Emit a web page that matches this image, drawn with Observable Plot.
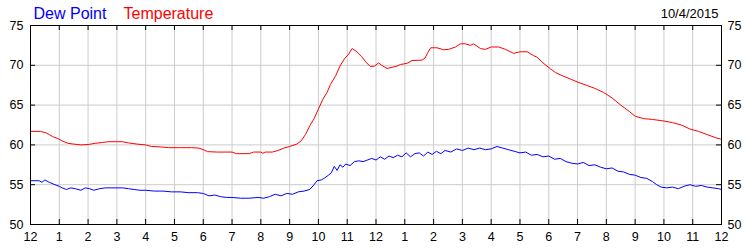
<!DOCTYPE html>
<html><head><meta charset="utf-8">
<script src="https://cdn.jsdelivr.net/npm/d3@7"></script>
<script src="https://cdn.jsdelivr.net/npm/@observablehq/plot@0.6"></script>
<style>body{margin:0;background:#fff}</style>
</head><body><div id="chart"></div>
<script>
// Hours after midnight (0..24) and readings in °F
const tempHours = [0,0.35,0.55,0.65,0.8,0.95,1.1,1.3,1.5,1.75,2.0,2.25,2.5,2.7,3.0,3.2,3.4,3.7,4.0,4.2,4.5,4.8,5.2,5.6,5.85,6.0,6.15,6.5,7.0,7.15,7.6,7.75,8.0,8.07,8.15,8.4,8.6,8.8,9.0,9.25,9.4,9.55,9.7,9.85,10.0,10.15,10.3,10.42,10.6,10.75,10.9,11.05,11.17,11.34,11.5,11.65,11.8,11.95,12.09,12.2,12.38,12.56,12.73,12.85,13.08,13.25,13.6,13.7,13.8,13.9,14.12,14.35,14.52,14.76,14.93,15.1,15.28,15.39,15.63,15.8,16.0,16.26,16.5,16.78,17.0,17.25,17.48,17.6,17.8,18.06,18.23,18.4,18.6,18.8,19.0,19.3,19.6,19.9,20.2,20.5,20.8,21.0,21.3,21.6,22.0,22.3,22.6,22.9,23.2,23.5,23.8,24.0];
const tempValues = [61.7,61.7,61.5,61.3,61.0,60.8,60.5,60.2,60.1,60.0,60.05,60.2,60.3,60.4,60.4,60.4,60.25,60.1,60.0,59.8,59.75,59.65,59.65,59.65,59.6,59.4,59.15,59.1,59.1,58.9,58.9,59.1,59.1,58.95,59.1,59.1,59.3,59.6,59.8,60.1,60.5,61.3,62.4,63.3,64.5,65.7,66.6,67.6,68.7,69.9,70.8,71.4,72.1,71.7,71.1,70.4,69.85,69.9,70.3,70.0,69.6,69.75,69.9,70.1,70.25,70.6,70.65,70.9,71.6,72.2,72.2,71.95,72.0,72.3,72.7,72.7,72.5,72.7,72.1,72.0,72.3,72.3,72.0,71.5,71.7,71.7,71.2,71.0,70.3,69.55,69.1,68.8,68.5,68.2,67.9,67.5,67.1,66.6,65.9,65.0,64.2,63.6,63.3,63.2,63.0,62.8,62.5,62.0,61.7,61.3,60.9,60.7];
const dewHours = [0,0.3,0.4,0.5,0.65,0.85,1.0,1.1,1.25,1.4,1.55,1.75,1.9,2.05,2.2,2.4,2.6,2.8,3.0,3.2,3.4,3.6,3.8,4.0,4.3,4.6,4.9,5.2,5.5,5.8,6.0,6.2,6.4,6.6,6.8,7.0,7.3,7.6,7.9,8.1,8.3,8.5,8.7,8.9,9.1,9.3,9.5,9.7,9.85,9.95,10.1,10.2,10.35,10.45,10.55,10.65,10.75,10.85,10.95,11.1,11.25,11.4,11.55,11.7,11.85,12.0,12.15,12.3,12.45,12.6,12.75,12.9,13.05,13.2,13.35,13.5,13.65,13.8,13.95,14.1,14.25,14.4,14.6,14.8,15.0,15.2,15.4,15.6,15.8,16.0,16.2,16.4,16.6,16.8,17.0,17.2,17.4,17.6,17.8,18.0,18.2,18.4,18.6,18.8,19.0,19.2,19.4,19.6,19.8,20.0,20.2,20.4,20.6,20.8,21.0,21.2,21.4,21.6,21.75,21.9,22.1,22.3,22.5,22.7,22.9,23.1,23.3,23.5,23.7,23.9,24.0];
const dewValues = [55.5,55.5,55.3,55.6,55.3,55.0,54.8,54.6,54.4,54.6,54.5,54.3,54.6,54.5,54.3,54.5,54.6,54.6,54.6,54.6,54.5,54.4,54.3,54.3,54.2,54.2,54.1,54.1,54.0,54.0,53.9,53.6,53.7,53.5,53.4,53.4,53.3,53.3,53.4,53.3,53.5,53.8,53.6,53.9,53.8,54.1,54.2,54.4,55.0,55.5,55.6,55.8,56.2,56.5,57.3,56.8,57.5,57.2,57.6,57.4,57.9,58.0,57.9,58.1,58.3,58.1,58.5,58.2,58.6,58.4,58.7,58.5,59.0,58.5,58.9,59.0,58.6,59.1,58.8,59.2,58.9,59.3,59.1,59.5,59.3,59.6,59.4,59.6,59.4,59.5,59.8,59.6,59.4,59.2,59.0,59.1,58.7,58.8,58.5,58.6,58.2,58.3,57.9,57.7,57.6,57.8,57.4,57.5,57.2,57.0,57.1,56.7,56.6,56.3,56.2,55.9,55.8,55.4,55.0,54.7,54.6,54.7,54.5,54.8,55.0,54.8,54.9,54.7,54.6,54.5,54.4];

const hourTicks = [0,1,2,3,4,5,6,7,8,9,10,11,12,13,14,15,16,17,18,19,20,21,22,23,24];
const hourLabels = ["12","1","2","3","4","5","6","7","8","9","10","11","12","1","2","3","4","5","6","7","8","9","10","11","12"];
const yTicks = [50,55,60,65,70,75];
const yGrid = [55,60,65,70];
const titleDew = "Dew Point";
const titleTemp = "Temperature";
const dateLabel = "10/4/2015";

const W = 750, H = 250, mt = 25, mb = 26, ml = 30, mr = 29;
const frameW = W - ml - mr, frameH = H - mt - mb;
const temp = tempHours.map((h, i) => ({h, v: tempValues[i]}));
const dew = dewHours.map((h, i) => ({h, v: dewValues[i]}));
const fmtHour = d => hourLabels[hourTicks.indexOf(d)];

const chart = Plot.plot({
  width: W, height: H,
  marginTop: mt, marginBottom: mb, marginLeft: ml, marginRight: mr,
  style: {fontFamily: "'Liberation Sans', Arial, sans-serif", fontSize: "12.5px", color: "#000", background: "#fff"},
  x: {domain: [0, 24]},
  y: {domain: [50, 75]},
  marks: [
    Plot.gridX(hourTicks.slice(1, -1), {stroke: "#cccccc", strokeOpacity: 1}),
    Plot.gridY(yGrid, {stroke: "#cccccc", strokeOpacity: 1}),
    Plot.tickX(hourTicks, {x: d => d, insetTop: frameH - 5, stroke: "#000"}),
    Plot.tickX(hourTicks, {x: d => d, insetBottom: frameH - 5, stroke: "#000"}),
    Plot.tickY(yTicks, {y: d => d, insetRight: frameW - 5, stroke: "#000"}),
    Plot.tickY(yTicks, {y: d => d, insetLeft: frameW - 5, stroke: "#000"}),
    Plot.axisX(hourTicks, {anchor: "bottom", tickSize: 0, tickPadding: 8, tickFormat: fmtHour, label: null}),
    Plot.axisY(yTicks, {anchor: "left", tickSize: 0, tickPadding: 7, label: null}),
    Plot.axisY(yTicks, {anchor: "right", tickSize: 0, tickPadding: 6, label: null}),
    Plot.line(dew, {x: "h", y: "v", stroke: "#0000ff", strokeWidth: 1}),
    Plot.line(temp, {x: "h", y: "v", stroke: "#ff0000", strokeWidth: 1}),
    Plot.frame({stroke: "#000"}),
    Plot.text([titleDew], {frameAnchor: "top-left", dx: 3, dy: -7, lineAnchor: "bottom", textAnchor: "start", fill: "#0000ff", fontSize: 16}),
    Plot.text([titleTemp], {frameAnchor: "top-left", dx: 93, dy: -7, lineAnchor: "bottom", textAnchor: "start", fill: "#ff0000", fontSize: 16}),
    Plot.text([dateLabel], {frameAnchor: "top-right", dx: -3, dy: -8, lineAnchor: "bottom", textAnchor: "end", fill: "#000", fontSize: 13})
  ]
});
document.getElementById("chart").appendChild(chart);
</script>
</body></html>
